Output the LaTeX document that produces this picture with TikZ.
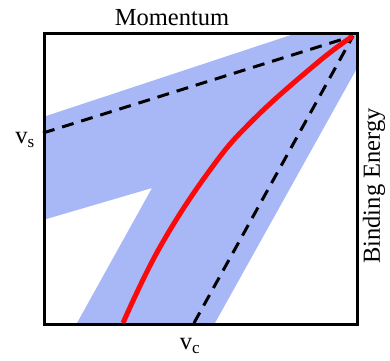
\documentclass[tikz,border=0pt]{standalone}
\usepackage{fontspec}
\setmainfont{Liberation Serif}
\definecolor{bandblue}{RGB}{168,184,246}
\definecolor{curvered}{RGB}{250,10,10}
\tikzset{
  frame/.style={draw=black, line width=3.2pt},
  dashline/.style={draw=black, line width=3pt, dash pattern=on 12pt off 8pt},
  redcurve/.style={draw=curvered, line width=5pt},
  lbl/.style={font=\fontsize{24.5}{28}\selectfont, inner sep=0pt},
}
\begin{document}
\begin{tikzpicture}[x=1pt,y=-1pt]
\useasboundingbox (0,0) rectangle (390,360);
% blue band
\fill[bandblue] (43,117) -- (300,32) -- (356,32) -- (356,70) -- (215,323) -- (77,323) -- (152,188) -- (43,220) -- cycle;
% coordinates
\coordinate (tr) at (353,36);
\coordinate (vsp) at (43,133);
\coordinate (vcp) at (194,323);
\coordinate (rs) at (123,323);
% dashed lines
\draw[dashline] (vsp) -- (tr);
\draw[dashline] (vcp) -- (tr);
% red curve
\draw[redcurve] plot[smooth, tension=0.7] coordinates {(123,323) (160,247) (210,170) (253,120) (317,63) (353,36)};
% frame
\node[frame, minimum width=313pt, minimum height=291pt, inner sep=0pt, anchor=north west] (box) at (43,32) {};
% labels
\node[lbl] (mom) at (172,18) {Momentum};
\node[lbl, rotate=90] (be) at (374,186) {Binding Energy};
\node[lbl] (vs) at (25,140) {v\textsubscript{s}};
\node[lbl] (vc) at (190,346) {v\textsubscript{c}};
\end{tikzpicture}
\end{document}
